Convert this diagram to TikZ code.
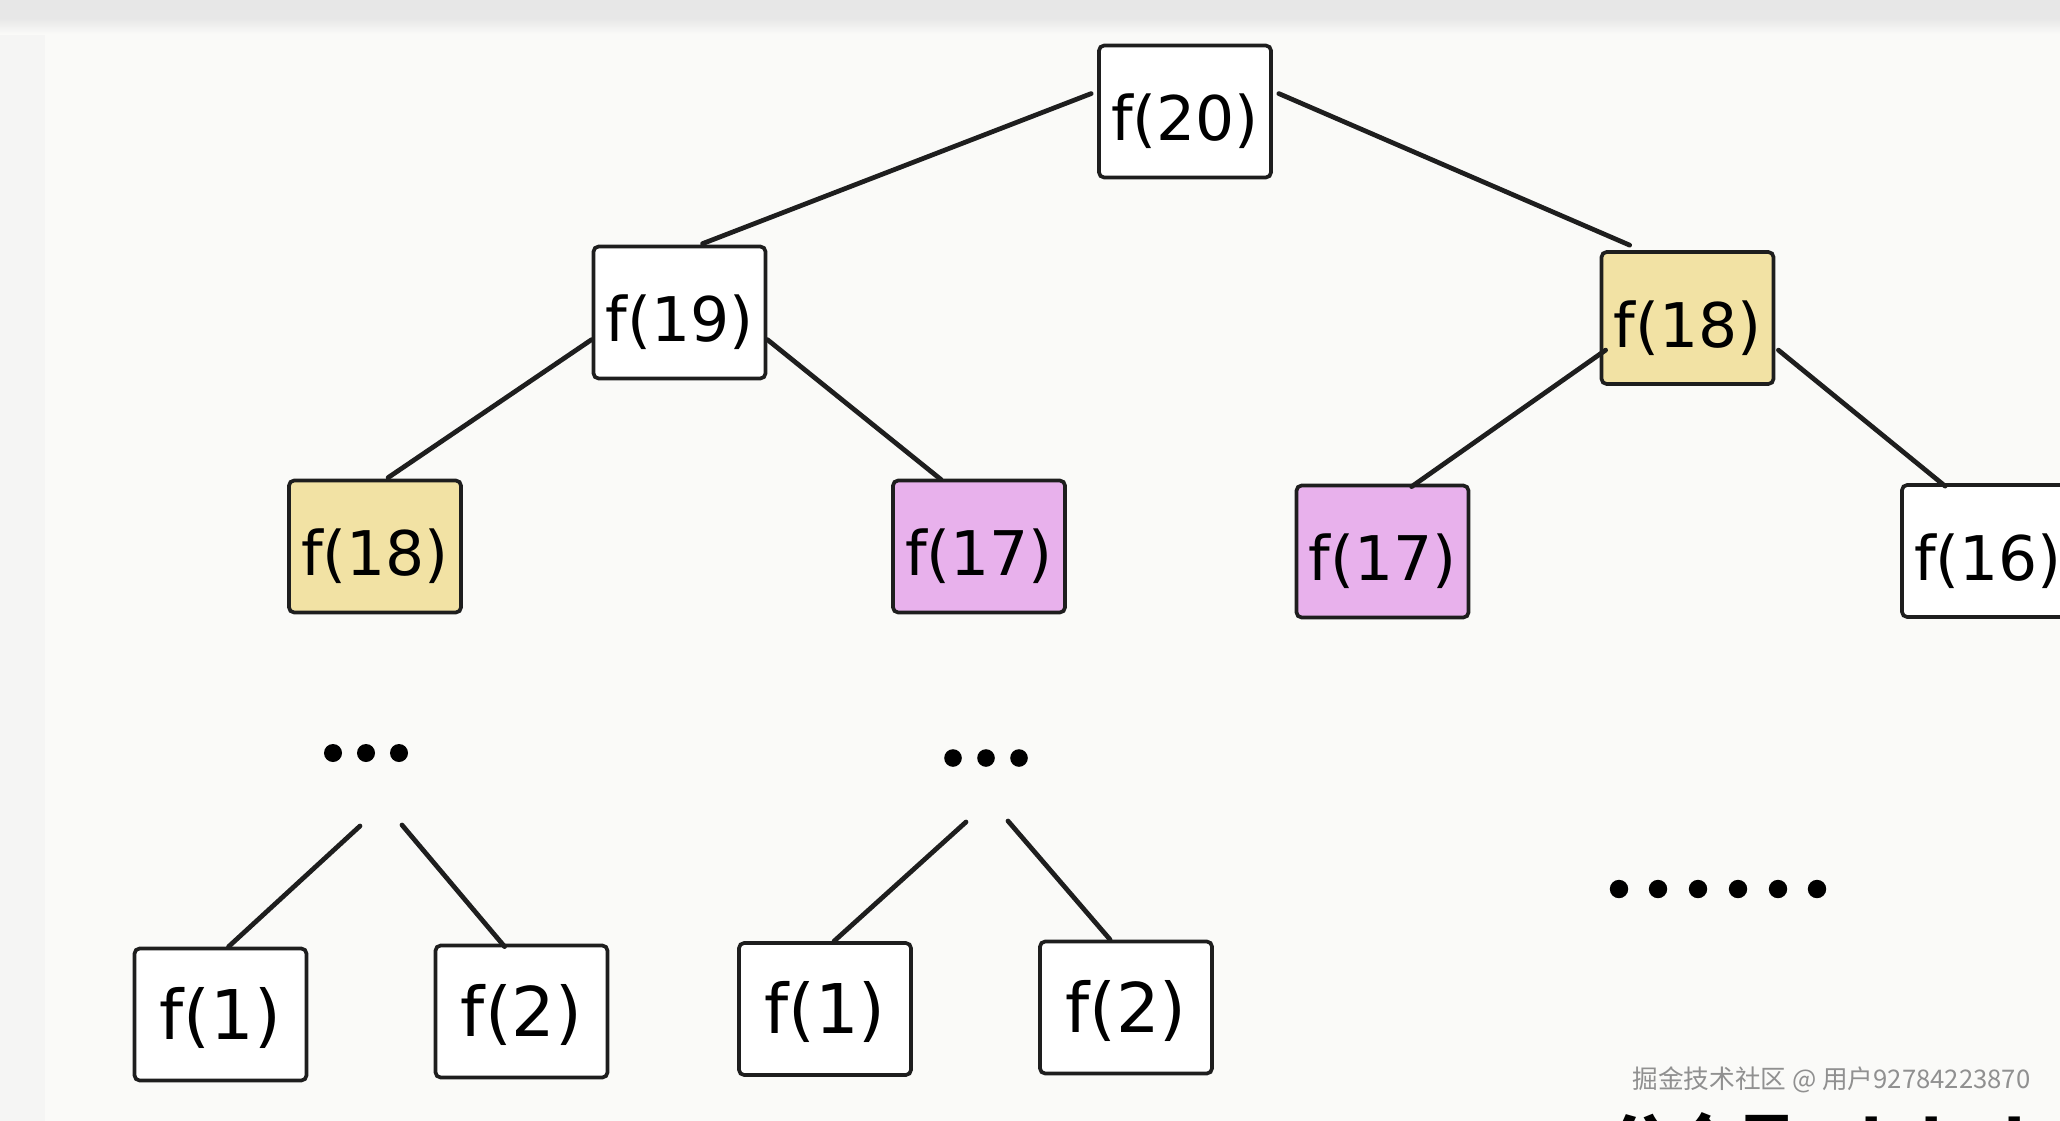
\documentclass[tikz,border=0pt]{standalone}
\usepackage{fontspec}
\setmainfont{DejaVu Sans}
\newfontfamily\cjkfont{Noto Sans CJK SC}
\usetikzlibrary{calc}
\definecolor{bgmain}{HTML}{FAFAF8}
\definecolor{bgtop}{HTML}{E7E7E7}
\definecolor{bgleft}{HTML}{F5F5F4}
\definecolor{boxline}{HTML}{1E1E1E}
\definecolor{yellowbox}{HTML}{F2E2A4}
\definecolor{pinkbox}{HTML}{E8B1EC}
\definecolor{wmgray}{HTML}{909090}
\begin{document}
\begin{tikzpicture}[x=0.01cm,y=-0.01cm,
  fbox/.style={draw=boxline, line width=1.05pt, rounded corners=1.5pt,
    minimum width=1.72cm, minimum height=1.32cm, inner sep=0pt,
    fill=white, font=\fontsize{17.5}{20}\selectfont,
    text height=19pt, text depth=2.3pt},
  fboxbig/.style={fbox, font=\fontsize{19.5}{22}\selectfont,
    text height=16.5pt, text depth=2.5pt},
  yel/.style={fill=yellowbox},
  pnk/.style={fill=pinkbox},
  link/.style={draw=boxline, line width=1.35pt, line cap=round},
  dotmark/.style={fill=black}
]
\useasboundingbox (0,0) rectangle (2060,1121);
\clip (0,0) rectangle (2060,1121);
% background
\fill[bgmain] (0,0) rectangle (2060,1121);
\fill[bgleft] (0,0) rectangle (45,1121);
\shade[top color=bgtop, bottom color=bgmain] (0,18) rectangle (2060,34);
\fill[bgtop] (0,0) rectangle (2060,18);

% nodes
\node[fbox] (f20) at (1185,111.5) {f(20)};
\node[fbox] (f19) at (679.5,312.5) {f(19)};
\node[fbox,yel] (f18r) at (1687.5,318) {f(18)};
\node[fbox,yel] (f18l) at (375,546.5) {f(18)};
\node[fbox,pnk] (f17a) at (979,546.5) {f(17)};
\node[fbox,pnk] (f17b) at (1382.5,551.5) {f(17)};
\node[fbox] (f16) at (1988,551) {f(16)};
\node[fboxbig] (f1a) at (220.5,1014.5) {f(1)};
\node[fboxbig] (f2a) at (521.5,1011.5) {f(2)};
\node[fboxbig] (f1b) at (825,1009) {f(1)};
\node[fboxbig] (f2b) at (1126,1007.5) {f(2)};

% free ends below the dots
\coordinate (d1l) at (360,826);
\coordinate (d1r) at (402,825);
\coordinate (d2l) at (966,822);
\coordinate (d2r) at (1008,821);

% connectors
\draw[link] ($(f20.north west)+(-6,50)$) -- ($(f19.north west)+(111,-1)$);
\draw[link] ($(f20.north east)+(6,50)$) -- ($(f18r.north west)+(30,-5)$);
\draw[link] ($(f19.north west)+(0,95)$) -- ($(f18l.north west)+(101,-1)$);
\draw[link] ($(f19.north east)+(0,95)$) -- ($(f17a.north west)+(50,1)$);
\draw[link] ($(f18r.north west)+(6,100)$) -- ($(f17b.north west)+(117,3)$);
\draw[link] ($(f18r.north east)+(3,100)$) -- ($(f16.north west)+(45,3)$);
\draw[link] (d1l) -- ($(f1a.north west)+(96,0)$);
\draw[link] (d1r) -- ($(f2a.north west)+(71,3)$);
\draw[link] (d2l) -- ($(f1b.north west)+(97,0)$);
\draw[link] (d2r) -- ($(f2b.north west)+(72,0)$);

% dots
\foreach \x in {333,366,399} \fill[dotmark] (\x,753) circle[radius=0.09cm];
\foreach \x in {953,986,1019} \fill[dotmark] (\x,758) circle[radius=0.088cm];
\foreach \x in {1619,1658,1698,1738,1778,1817} \fill[dotmark] (\x,889) circle[radius=0.092cm];

% watermark
\node[anchor=base east, text=wmgray, font=\cjkfont\fontsize{7.3}{8}\selectfont, inner sep=0pt] (wm) at (2031,1088) {掘金技术社区 @ 用户92784223870};
% cut-off footer text (cut by the lower edge, as in the reference)
\node[anchor=base west, text=black, font=\cjkfont\bfseries\fontsize{18}{20}\selectfont, inner sep=0pt] (foot) at (1608,1167) {公众号：labuladong};
\end{tikzpicture}
\end{document}
